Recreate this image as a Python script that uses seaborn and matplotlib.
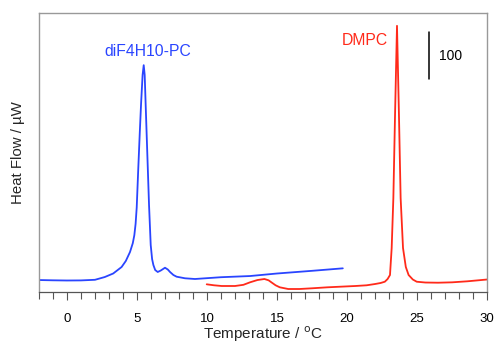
import numpy as np
import pandas as pd
import matplotlib
matplotlib.use('Agg')
import matplotlib.pyplot as plt
import seaborn as sns

# diF4H10-PC trace (temperature in degC, heat flow in uW, baseline offset arbitrary)
blue_temp = [-2.0, -1.0, 0.0, 1.0, 2.0, 2.7, 3.3, 3.9, 4.2, 4.5, 4.7, 4.81, 4.9, 4.98,
             5.09, 5.2, 5.29, 5.4, 5.48, 5.55, 5.62, 5.74, 5.86, 5.98, 6.08, 6.17, 6.3,
             6.48, 6.7, 7.0, 7.2, 7.36, 7.6, 7.83, 8.43, 9.14, 11.0, 13.07, 15.0, 17.5, 19.7]
blue_flow = [25.5, 24.9, 24.5, 24.7, 26.0, 31.9, 39.4, 53.2, 66.0, 85.1, 104.0, 121.0, 145.0, 180.0,
             262.0, 340.0, 400.0, 462.0, 483.0, 462.0, 398.0, 291.5, 185.0, 100.0, 70.0, 57.5, 46.8,
             42.6, 45.8, 51.7, 47.9, 42.6, 36.2, 32.6, 29.2, 27.7, 31.5, 34.0, 39.4, 45.1, 50.4]

# DMPC trace
red_temp = [9.98, 10.5, 11.05, 12.0, 12.6, 13.07, 13.6, 14.1, 14.4, 14.6, 14.9, 15.2, 15.8, 16.6,
            17.5, 18.6, 19.8, 20.6, 21.4, 22.0, 22.4, 22.7, 22.9, 23.07, 23.19, 23.31, 23.43, 23.5,
            23.57, 23.64, 23.71, 23.83, 24.0, 24.2, 24.4, 24.7, 24.98, 25.6, 26.5, 27.5, 28.6, 30.0]
red_flow = [16.4, 14.3, 12.8, 12.8, 15.3, 20.6, 25.5, 27.7, 24.9, 20.6, 14.3, 10.0, 6.4, 6.4,
            7.9, 10.0, 11.7, 12.8, 14.3, 17.0, 19.2, 21.9, 27.7, 36.2, 93.6, 200.0, 376.7, 472.0,
            566.7, 472.0, 376.7, 200.0, 93.6, 53.2, 36.2, 26.6, 21.9, 20.2, 19.8, 20.6, 22.8, 26.6]

x_ticks = [0, 5, 10, 15, 20, 25, 30]
scale_bar = 100  # uW

BLUE = '#2a45ff'
RED = '#ff2a1a'

sns.set_style('white')
plt.rcParams['font.family'] = ['Liberation Sans', 'DejaVu Sans']

fig = plt.figure(figsize=(4.96, 3.45), dpi=100)
ax = fig.add_axes([0.0786, 0.1536, 0.9033, 0.8087])

blue_df = pd.DataFrame({'T': blue_temp, 'Q': blue_flow})
red_df = pd.DataFrame({'T': red_temp, 'Q': red_flow})
sns.lineplot(data=blue_df, x='T', y='Q', color=BLUE, lw=1.3, estimator=None, sort=False, ax=ax)
sns.lineplot(data=red_df, x='T', y='Q', color=RED, lw=1.3, estimator=None, sort=False, ax=ax)

ax.set_xlim(-2, 30)
ax.set_ylim(0, 594)

# scale bar
ax.plot([25.86, 25.86], [453, 453 + scale_bar], color='black', lw=1.1)
ax.text(26.6, 503, '100', fontsize=10, va='center', ha='left', color='black')

ax.text(5.8, 513, 'diF4H10-PC', color=BLUE, fontsize=11.3, ha='center', va='center')
ax.text(21.3, 536, 'DMPC', color=RED, fontsize=11.3, ha='center', va='center')

ax.set_xticks(x_ticks)
ax.set_xticks(np.arange(-2, 31, 1), minor=True)
ax.set_yticks([])
ax.tick_params(axis='x', which='major', direction='out', length=6, width=0.8,
               colors='#555555', labelcolor='black', labelsize=9.5, pad=9, bottom=True)
ax.tick_params(axis='x', which='minor', direction='out', length=5, width=0.8,
               colors='#555555', bottom=True)

for side in ['top', 'right', 'left']:
    ax.spines[side].set_color('#999999')
    ax.spines[side].set_linewidth(1.0)
ax.spines['bottom'].set_color('#555555')
ax.spines['bottom'].set_linewidth(0.9)

ax.set_xlabel(r'Temperature / $^{\mathrm{o}}$C', fontsize=11, labelpad=0)
ax.set_ylabel('Heat Flow / µW', fontsize=10.8, labelpad=10)

fig.savefig('out.png', dpi=100)
